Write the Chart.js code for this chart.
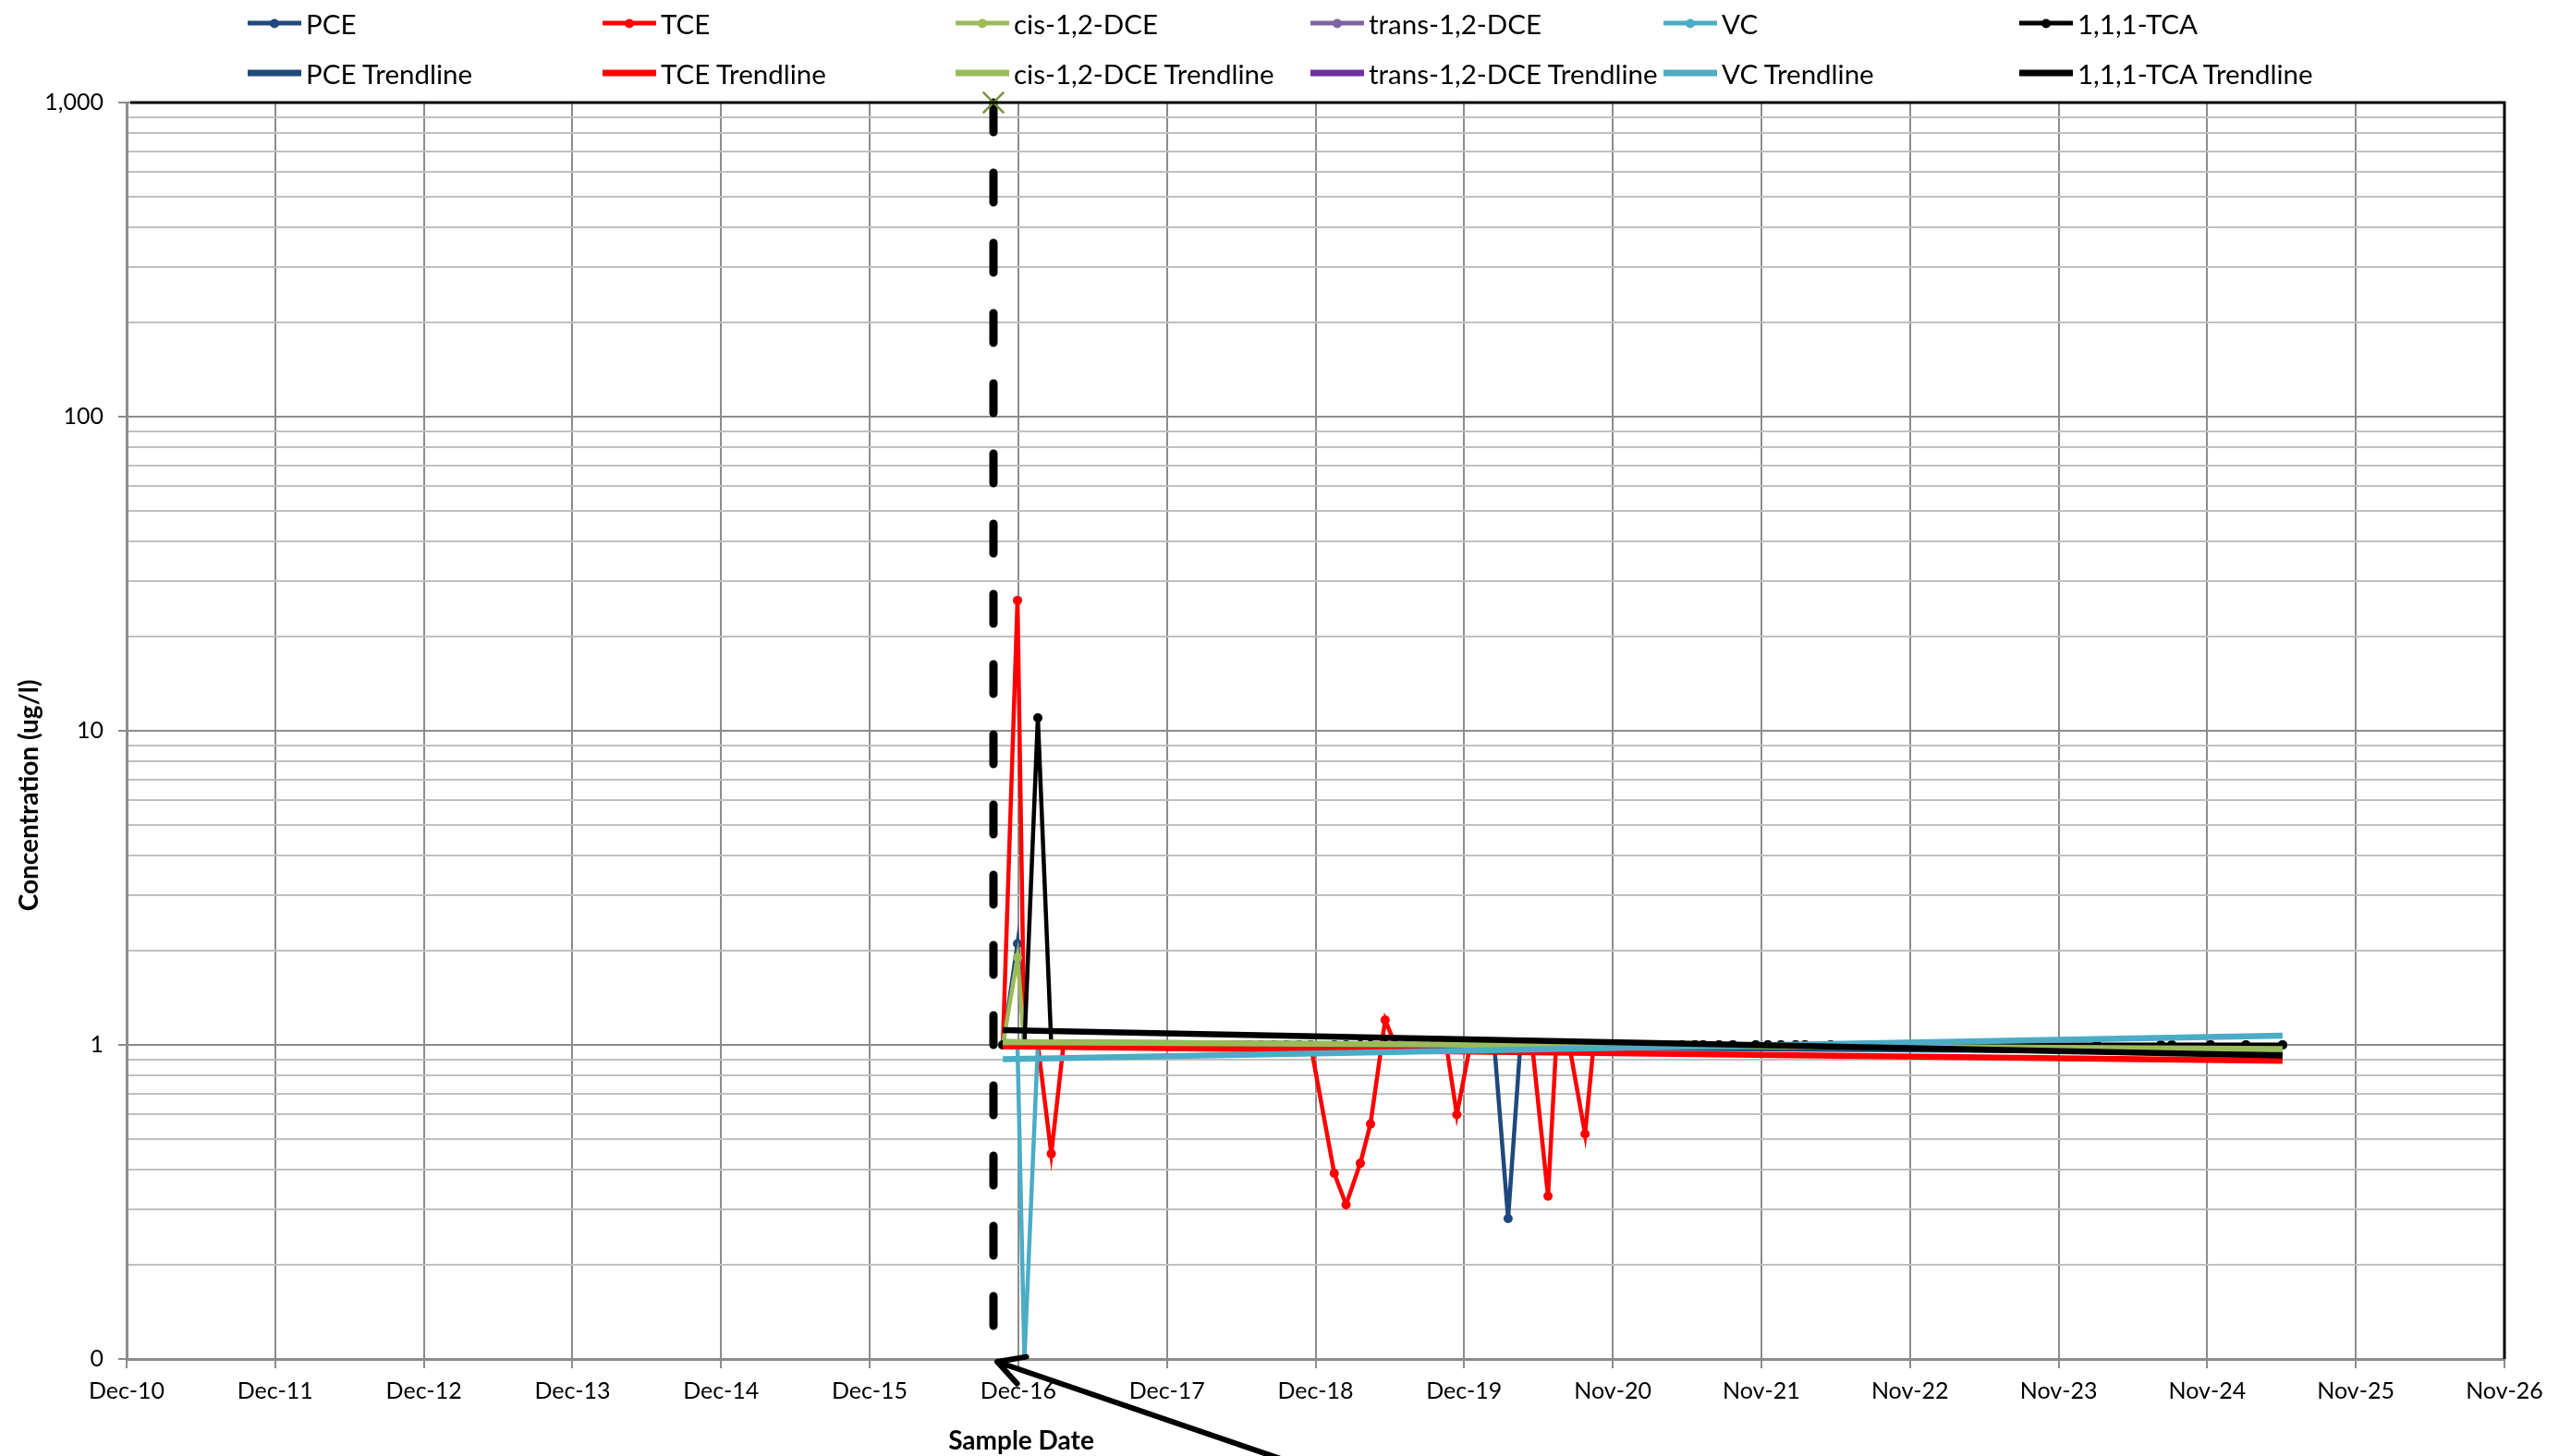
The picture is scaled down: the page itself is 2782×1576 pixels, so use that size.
<!DOCTYPE html>
<html>
<head>
<meta charset="utf-8">
<script src="https://cdn.jsdelivr.net/npm/chart.js@4/dist/chart.umd.min.js"></script>
<style>
  html, body { margin: 0; padding: 0; background: #fff; }
  #wrap { position: relative; width: 2782px; height: 1576px; }
  #legend { position: absolute; left: 0; top: 0; width: 2782px; height: 110px; font-family: Lato, sans-serif; font-size: 29.5px; color: #000; }
  .item { position: absolute; display: flex; align-items: center; white-space: nowrap; transform: translateY(-50%); }
  .swatch { position: relative; width: 58px; margin-right: 5px; }
  .dot { position: absolute; left: 24px; top: 50%; width: 10px; height: 10px; margin-top: -5px; border-radius: 50%; }
</style>
</head>
<body>
<div id="wrap">
  <canvas id="concChart" width="2782" height="1576"></canvas>
  <div id="legend"></div>
</div>
<script>
// Sample dates and concentrations (ug/l); non-detects plotted at 1
const sampleDates = [
  '2016-10-24', '2016-11-29', '2016-12-16', '2017-01-18', '2017-02-20', '2017-03-22', '2017-04-20', '2017-05-22', '2017-06-20', '2017-07-20',
  '2017-08-21', '2017-09-20', '2017-10-20', '2017-11-20', '2017-12-20', '2018-01-22', '2018-02-20', '2018-03-20', '2018-04-20', '2018-05-21',
  '2018-06-20', '2018-07-20', '2018-08-20', '2018-09-20', '2018-10-22', '2018-11-19', '2019-01-16', '2019-02-14', '2019-03-21', '2019-04-15',
  '2019-05-21', '2019-06-15', '2019-07-17', '2019-08-18', '2019-09-16', '2019-10-18', '2019-11-13', '2019-12-16', '2020-01-15', '2020-02-13',
  '2020-03-18', '2020-04-17', '2020-05-16', '2020-06-24', '2020-07-14', '2020-08-15', '2020-09-23', '2020-10-14', '2020-11-14', '2020-12-16',
  '2021-01-14', '2021-02-13', '2021-03-10', '2021-04-10', '2021-05-19', '2021-06-20', '2021-07-10', '2021-08-18', '2021-09-21', '2021-11-16',
  '2021-12-16', '2022-01-17', '2022-02-22', '2022-03-17', '2022-05-19', '2022-08-27', '2022-12-10', '2023-05-15', '2023-09-20', '2024-03-03',
  '2024-08-07', '2024-09-03', '2024-12-07', '2025-03-04', '2025-06-02'
];

const pceValues = [
  1, 2.1, 1, 1, 1, 1, 1, 1, 1, 1,
  1, 1, 1, 1, 1, 1, 1, 1, 1, 1,
  1, 1, 1, 1, 1, 1, 1, 1, 1, 1,
  1, 1, 1, 1, 1, 1, 1, 1, 1, 1,
  0.28, 1, 1, 1, 1, 1, 1, 1, 1, 1,
  1, 1, 1, 1, 1, 1, 1, 1, 1, 1,
  1, 1, 1, 1, 1, 1, 1, 1, 1, 1,
  1, 1, 1, 1, 1
];
const tceValues = [
  1, 26, 1, 1, 0.45, 1, 1, 1, 1, 1,
  1, 1, 1, 1, 1, 1, 1, 1, 1, 1,
  1, 1, 1, 1, 1, 1, 0.39, 0.31, 0.42, 0.56,
  1.2, 1, 1, 1, 1, 1, 0.6, 1, 1, 1,
  1, 1, 1, 0.33, 1, 1, 0.52, 1, 1, 1,
  1, 1, 1, 1, 1, 1, 1, 1, 1, 1,
  1, 1, 1, 1, 1, 1, 1, 1, 1, 1,
  1, 1, 1, 1, 1
];
const cisDceValues = [
  1, 1.9, 1, 1, 1, 1, 1, 1, 1, 1,
  1, 1, 1, 1, 1, 1, 1, 1, 1, 1,
  1, 1, 1, 1, 1, 1, 1, 1, 1, 1,
  1, 1, 1, 1, 1, 1, 1, 1, 1, 1,
  1, 1, 1, 1, 1, 1, 1, 1, 1, 1,
  1, 1, 1, 1, 1, 1, 1, 1, 1, 1,
  1, 1, 1, 1, 1, 1, 1, 1, 1, 1,
  1, 1, 1, 1, 1
];
const transDceValues = [
  1, 1, 1, 1, 1, 1, 1, 1, 1, 1,
  1, 1, 1, 1, 1, 1, 1, 1, 1, 1,
  1, 1, 1, 1, 1, 1, 1, 1, 1, 1,
  1, 1, 1, 1, 1, 1, 1, 1, 1, 1,
  1, 1, 1, 1, 1, 1, 1, 1, 1, 1,
  1, 1, 1, 1, 1, 1, 1, 1, 1, 1,
  1, 1, 1, 1, 1, 1, 1, 1, 1, 1,
  1, 1, 1, 1, 1
];
const vcValues = [
  1, 1, 0.1, 1, 1, 1, 1, 1, 1, 1,
  1, 1, 1, 1, 1, 1, 1, 1, 1, 1,
  1, 1, 1, 1, 1, 1, 1, 1, 1, 1,
  1, 1, 1, 1, 1, 1, 1, 1, 1, 1,
  1, 1, 1, 1, 1, 1, 1, 1, 1, 1,
  1, 1, 1, 1, 1, 1, 1, 1, 1, 1,
  1, 1, 1, 1, 1, 1, 1, 1, 1, 1,
  1, 1, 1, 1, 1
];
const tcaValues = [
  1, 1, 1, 11, 1, 1, 1, 1, 1, 1,
  1, 1, 1, 1, 1, 1, 1, 1, 1, 1,
  1, 1, 1, 1, 1, 1, 1, 1, 1, 1,
  1, 1, 1, 1, 1, 1, 1, 1, 1, 1,
  1, 1, 1, 1, 1, 1, 1, 1, 1, 1,
  1, 1, 1, 1, 1, 1, 1, 1, 1, 1,
  1, 1, 1, 1, 1, 1, 1, 1, 1, 1,
  1, 1, 1, 1, 1
];

// Trendlines: start / end values
const trendDates = ['2016-10-24', '2025-06-02'];
const pceTrend = [1.01, 0.95];
const tceTrend = [0.99, 0.89];
const cisDceTrend = [1.02, 0.97];
const transDceTrend = [1.02, 0.965];
const vcTrend = [0.90, 1.07];
const tcaTrend = [1.115, 0.925];

// Start of remediation marker line
const markerDate = '2016-10-01';
const markerRange = [1000, 0.1];

const seriesNames = ['PCE', 'TCE', 'cis-1,2-DCE', 'trans-1,2-DCE', 'VC', '1,1,1-TCA'];
const seriesColors = ['#1F497D', '#FF0000', '#9BBB59', '#8064A2', '#4BACC6', '#000000'];
const trendColors = ['#1F497D', '#FF0000', '#9BBB59', '#7030A0', '#4BACC6', '#000000'];
const seriesValues = [pceValues, tceValues, cisDceValues, transDceValues, vcValues, tcaValues];
const trendValues = [pceTrend, tceTrend, cisDceTrend, transDceTrend, vcTrend, tcaTrend];
// drawing order of the trendlines (higher = further back)
const trendOrder = [10, 9, 8, 12, 7, 6];

const xTickLabels = ['Dec-10', 'Dec-11', 'Dec-12', 'Dec-13', 'Dec-14', 'Dec-15', 'Dec-16', 'Dec-17', 'Dec-18',
  'Dec-19', 'Nov-20', 'Nov-21', 'Nov-22', 'Nov-23', 'Nov-24', 'Nov-25', 'Nov-26'];
const yMajorTicks = [0.1, 1, 10, 100, 1000];
const yTickLabels = ['0', '1', '10', '100', '1,000'];

// x axis counts days from the first axis date, one major unit = 365 days
const axisStart = Date.UTC(2010, 11, 3);
const majorUnit = 365;
function dayOf(s) {
  const p = s.split('-').map(Number);
  return (Date.UTC(p[0], p[1] - 1, p[2]) - axisStart) / 86400000;
}
function toPoints(dates, values) {
  return dates.map((d, i) => ({ x: dayOf(d), y: values[i] }));
}

const yTicks = [];
yMajorTicks.forEach((v, i) => {
  yTicks.push(v);
  if (i < yMajorTicks.length - 1) {
    for (let m = 2; m <= 9; m++) yTicks.push(v * m);
  }
});

const datasets = [];
datasets.push({
  label: 'marker',
  data: toPoints([markerDate, markerDate], markerRange),
  borderColor: '#000',
  borderWidth: 9,
  borderDash: [32, 44],
  borderCapStyle: 'round',
  pointStyle: 'crossRot',
  pointRadius: [16, 0],
  pointBorderColor: '#77933C',
  pointBorderWidth: 2.5,
  clip: false,
  order: 30
});
seriesNames.forEach((name, i) => {
  datasets.push({
    label: name,
    data: toPoints(sampleDates, seriesValues[i]),
    borderColor: seriesColors[i],
    backgroundColor: seriesColors[i],
    borderWidth: 4.5,
    pointRadius: 5,
    pointBorderWidth: 0,
    tension: 0,
    order: 20 - i
  });
});
seriesNames.forEach((name, i) => {
  datasets.push({
    label: name + ' Trendline',
    data: toPoints(trendDates, trendValues[i]),
    borderColor: trendColors[i],
    borderWidth: 6.5,
    pointRadius: 0,
    order: trendOrder[i]
  });
});

const extras = {
  id: 'extras',
  afterDraw(chart) {
    const ctx = chart.ctx;
    const a = chart.chartArea;
    const xs = chart.scales.x;
    ctx.save();
    // plot area border top / right
    ctx.strokeStyle = '#000';
    ctx.lineWidth = 3;
    ctx.beginPath();
    ctx.moveTo(a.left + 4, a.top);
    ctx.lineTo(a.right, a.top);
    ctx.lineTo(a.right, a.bottom);
    ctx.stroke();

    // axis titles
    ctx.fillStyle = '#000';
    ctx.font = 'bold 28px Lato, sans-serif';
    ctx.textAlign = 'center';
    ctx.textBaseline = 'middle';
    ctx.fillText('Sample Date', 1105, 1560);
    ctx.translate(32, 861);
    ctx.rotate(-Math.PI / 2);
    ctx.fillText('Concentration (ug/l)', 0, 0);
    ctx.restore();

    // arrow pointing at the marker line
    ctx.save();
    const tipX = xs.getPixelForValue(dayOf(markerDate)) + 4;
    const tipY = a.bottom + 3;
    const ang = Math.atan2(101, 295);
    ctx.strokeStyle = '#000';
    ctx.lineWidth = 6;
    ctx.lineCap = 'round';
    ctx.lineJoin = 'round';
    ctx.beginPath();
    ctx.moveTo(tipX, tipY);
    ctx.lineTo(tipX + Math.cos(ang) * 500, tipY + Math.sin(ang) * 500);
    ctx.moveTo(tipX + Math.cos(ang + 0.5) * 32, tipY + Math.sin(ang + 0.5) * 32);
    ctx.lineTo(tipX, tipY);
    ctx.lineTo(tipX + Math.cos(ang - 0.5) * 32, tipY + Math.sin(ang - 0.5) * 32);
    ctx.stroke();
    ctx.restore();
  }
};

const concChart = new Chart(document.getElementById('concChart').getContext('2d'), {
  type: 'line',
  data: { datasets: datasets },
  options: {
    responsive: false,
    animation: false,
    devicePixelRatio: 1,
    layout: { padding: { top: 111, right: 72, left: 0, bottom: 0 } },
    plugins: {
      legend: { display: false },
      tooltip: { enabled: false }
    },
    scales: {
      x: {
        type: 'linear',
        min: 0,
        max: majorUnit * (xTickLabels.length - 1),
        afterBuildTicks: s => { s.ticks = xTickLabels.map((l, i) => ({ value: i * majorUnit })); },
        afterFit: s => { s.height = 105; },
        grid: { color: '#8c8c8c', lineWidth: 2, tickLength: 10, tickColor: '#8c8c8c' },
        border: { color: '#8c8c8c', width: 3 },
        ticks: {
          autoSkip: false,
          maxRotation: 0,
          padding: 10,
          color: '#000',
          font: { family: 'Lato', size: 25 },
          callback: (v, i) => xTickLabels[i]
        }
      },
      y: {
        type: 'logarithmic',
        min: yMajorTicks[0],
        max: yMajorTicks[yMajorTicks.length - 1],
        afterBuildTicks: s => { s.ticks = yTicks.map(v => ({ value: v })); },
        afterFit: s => { s.width = 137; },
        grid: {
          color: c => (c.tick && yMajorTicks.includes(c.tick.value)) ? '#8c8c8c' : '#c0c0c0',
          lineWidth: 2,
          tickLength: 9,
          tickColor: c => (c.tick && yMajorTicks.includes(c.tick.value)) ? '#8c8c8c' : 'rgba(0,0,0,0)'
        },
        border: { color: '#8c8c8c', width: 3 },
        ticks: {
          autoSkip: false,
          padding: 16,
          color: '#000',
          font: { family: 'Lato', size: 25 },
          callback: v => {
            const k = yMajorTicks.indexOf(v);
            return k >= 0 ? yTickLabels[k] : '';
          }
        }
      }
    }
  },
  plugins: [extras]
});

// legend: two rows, six columns
const legendCols = [268, 652, 1034, 1418, 1800, 2185];
const legendRows = [25, 79];
const legendEl = document.getElementById('legend');
seriesNames.forEach((name, i) => {
  [0, 1].forEach(r => {
    const item = document.createElement('div');
    item.className = 'item';
    item.style.left = legendCols[i] + 'px';
    item.style.top = legendRows[r] + 'px';
    const sw = document.createElement('div');
    sw.className = 'swatch';
    sw.style.height = r === 0 ? '5px' : '7px';
    sw.style.background = r === 0 ? seriesColors[i] : trendColors[i];
    if (r === 0) {
      const dot = document.createElement('div');
      dot.className = 'dot';
      dot.style.background = seriesColors[i];
      sw.appendChild(dot);
    }
    const txt = document.createElement('span');
    txt.textContent = r === 0 ? name : name + ' Trendline';
    item.appendChild(sw);
    item.appendChild(txt);
    legendEl.appendChild(item);
  });
});
</script>
</body>
</html>
